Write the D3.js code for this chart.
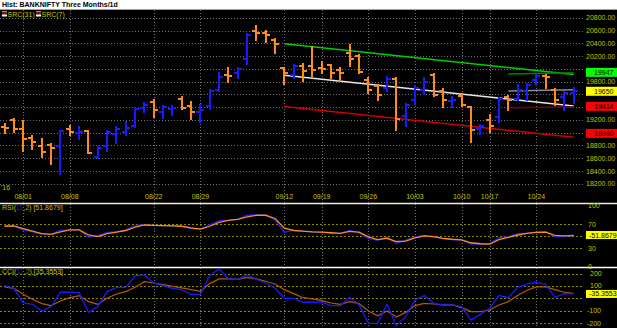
<!DOCTYPE html>
<meta charset="utf-8">
<script src="https://d3js.org/d3.v7.js"></script>
<style>
  body { margin: 0; background: #fff; }
  svg text { font-family: "Liberation Sans", Arial, sans-serif; font-size: 7px; }
</style>
<svg id="chart" width="617" height="328"></svg>
<script>

// trading days shown on the chart
const dates = ["07/28","07/29","08/01","08/02","08/03","08/04","08/05","08/08","08/09","08/10",
  "08/11","08/12","08/16","08/17","08/18","08/19","08/22","08/23","08/24","08/25",
  "08/26","08/29","08/30","08/31","09/01","09/02","09/06","09/07","09/08","09/09",
  "09/12","09/14","09/15","09/16","09/19","09/20","09/21","09/22","09/23","09/26",
  "09/27","09/28","09/29","09/30","10/03","10/04","10/05","10/06","10/07","10/10",
  "10/13","10/14","10/17","10/18","10/19","10/20","10/21","10/24","10/25","10/26",
  "10/27","10/28"];

const opens = [19090,19205,19055,18910,18795,18810,18785,19065,18995,19025,
  18615,18785,18985,19010,19100,19385,19475,19330,19370,19535,
  19425,19325,19415,19675,19905,19930,20160,20600,20560,20455,
  20010,19905,20045,20045,20015,20055,19990,20255,20210,19825,
  19740,19700,19835,19265,19520,19665,19905,19650,19495,19580,
  19400,19065,19205,19245,19560,19530,19650,19825,19885,19665,
  19560,19625];
const highs = [19140,19215,19190,18950,18900,18820,19035,19100,19085,19035,
  18775,19020,19090,19170,19385,19460,19510,19415,19425,19560,
  19475,19435,19665,19940,20010,20015,20545,20675,20600,20475,
  20015,20055,20085,20340,20105,20060,20015,20370,20215,19860,
  19750,19875,19855,19455,19730,19860,19915,19685,19560,19615,
  19405,19125,19280,19545,19580,19750,19770,19905,19910,19685,
  19635,19700];
const lows = [18995,19005,18715,18745,18625,18510,18355,18965,18900,18680,
  18600,18720,18835,18960,19090,19320,19240,19235,19280,19380,
  19220,19175,19370,19655,19790,19855,20085,20455,20430,20245,
  19760,19855,19815,19885,19930,19860,19815,20045,19930,19625,
  19510,19650,19040,19100,19455,19615,19580,19405,19405,19425,
  18860,18980,19005,19175,19350,19520,19510,19755,19705,19440,
  19360,19465];
const closes = [19075,19055,18900,18855,18705,18755,19020,19005,19010,18690,
  18760,19005,19065,19075,19370,19435,19350,19405,19385,19385,
  19320,19350,19655,19875,19885,20005,20535,20570,20535,20390,
  19940,20045,19965,19980,20005,19940,19940,20150,19950,19665,
  19595,19835,19220,19435,19700,19790,19595,19520,19515,19440,
  19045,19105,19110,19530,19510,19675,19755,19885,19875,19520,
  19625,19650];

// regression channels: [first bar, last bar] and [start value, end value]
const src31Bars = [30, 61];
const src31Upper = [20395, 19915];
const src31Mid = [19900, 19420];
const src31Lower = [19410, 18930];
const src7Bars = [54, 61];
const src7Upper = [19920, 19940];
const src7Mid = [19655, 19675];
const src7Lower = [19390, 19405];

// value flags on the price axis
const priceFlags = [19947, 19650, 19414, 18990];

const rsiFast = [66.3,66.3,60.4,57.2,53.5,52.9,59.3,60.4,60.4,48.1,
  50.8,56.1,57.2,60.4,67.9,68.4,67.3,67.3,66.8,66.3,
  62.0,61.5,68.9,75.3,76.4,78.0,84.4,84.9,84.4,76.9,
  56.1,59.9,57.7,57.2,56.7,55.1,54.5,59.3,55.1,46.5,
  43.3,48.7,38.0,43.3,48.7,51.3,48.7,45.5,44.4,43.3,
  36.9,36.9,36.9,47.6,48.7,54.0,55.1,56.7,57.2,48.7,
  49.7,51.8679];
const rsiSlow = [66.3,66.8,62.5,58.3,54.0,52.9,57.2,60.4,60.4,51.9,
  49.2,54.0,56.7,59.3,64.7,68.4,67.9,67.3,66.8,66.3,
  63.6,61.5,66.3,72.7,75.9,77.5,81.7,84.4,84.4,79.1,
  63.1,59.3,58.3,57.2,56.7,55.6,54.5,57.7,56.7,48.7,
  44.4,46.5,41.2,41.7,47.1,50.3,49.2,46.5,44.9,43.9,
  39.1,37.5,36.9,44.4,48.1,51.9,54.5,56.1,56.7,51.3,
  50.3,50.8];

const cciFast = [103,81,-35,-49,-103,-68,49,49,46,-114,
  -68,54,89,89,181,189,122,103,81,70,
  32,32,184,238,157,154,189,154,124,81,
  0,0,-32,-32,-32,-59,-59,8,-54,-203,
  -203,-49,-222,-149,-14,22,-41,-54,-54,-68,
  -176,-130,-81,22,5,89,114,130,114,8,
  38,35.3553];
const cciSlow = [92,81,32,-8,-43,-59,-22,5,22,-27,
  -49,0,35,54,89,135,124,111,97,84,
  70,57,119,157,157,154,170,157,138,116,
  70,38,5,-5,-19,-38,-49,-27,-43,-103,
  -141,-103,-151,-114,-59,-41,-46,-54,-54,-76,
  -108,-108,-95,-54,-27,22,65,92,92,70,
  49,41];

const dateTicks = ["08/01","08/08","08/22","08/29","09/12","09/19","09/26","10/03","10/10","10/17","10/24"];
const priceTicks = [18200,18400,18600,18800,19000,19200,19400,19600,19800,20000,20200,20400,20600,20800];
const rsiTicks = [100, 70, 30, 0];
const rsiGrid = [70, 50, 30];
const cciTicks = [200, 100, 0, -100, -200];

// colours
const olive = "#c4c400";
const upCol = "#1a1aff";
const downCol = "#ff8c1a";
const flagCols = ["#00ff00", "#ffff00", "#ff0000", "#ff0000"];

const svg = d3.select("#chart");
const W = 617, H = 328, plotRight = 584;

// background and title strip
svg.append("rect").attr("width", W).attr("height", H).attr("fill", "#000");
svg.append("rect").attr("width", W).attr("height", 9.5).attr("fill", "#fff");
svg.append("line").attr("x1", 0).attr("x2", W).attr("y1", 9.5).attr("y2", 9.5)
  .attr("stroke", "#a0a0a0").attr("stroke-width", 1);
svg.append("text").attr("x", 2).attr("y", 7).attr("font-weight", "bold").attr("fill", "#000")
  .text("Hist: BANKNIFTY Three Months/1d");

// scales
const x = d3.scalePoint().domain(dates).range([4.5, 573.6]);
const y = d3.scaleLinear().domain([18400, 20600]).range([171, 30.7]);
const yR = d3.scaleLinear().domain([0, 100]).range([266.5, 205.8]);
const yC = d3.scaleLinear().domain([-200, 200]).range([323, 273.6]);

const panels = [[10, 203], [204, 267], [268, 328]];

// vertical grid in every panel
panels.forEach(p => {
  svg.append("g").selectAll("line").data(dateTicks).join("line")
    .attr("x1", d => Math.round(x(d)) + 0.5).attr("x2", d => Math.round(x(d)) + 0.5)
    .attr("y1", p[0]).attr("y2", p[1])
    .attr("stroke", "#707070").attr("stroke-dasharray", "1,2");
});

// price grid + labels (labels under a value flag are hidden by it)
svg.append("g").selectAll("line").data(priceTicks).join("line")
  .attr("x1", 0).attr("x2", plotRight)
  .attr("y1", d => Math.round(y(d)) + 0.5).attr("y2", d => Math.round(y(d)) + 0.5)
  .attr("stroke", "#707070").attr("stroke-dasharray", "1,2");
const freeTicks = priceTicks.filter(t => priceFlags.every(f => Math.abs(y(t) - y(f)) > 7.5));
svg.append("g").selectAll("text").data(freeTicks).join("text")
  .attr("x", 586).attr("y", d => y(d) + 2.5).attr("fill", olive)
  .text(d => d.toFixed(2));

// date labels
svg.append("g").selectAll("text").data(dateTicks).join("text")
  .attr("x", d => x(d)).attr("y", 199).attr("text-anchor", "middle").attr("fill", olive)
  .text(d => d);
svg.append("text").attr("x", 1).attr("y", 190).attr("fill", olive).text("'16");

// regression channels
function channel(bars, vals, col, w) {
  svg.append("line")
    .attr("x1", x(dates[bars[0]])).attr("x2", x(dates[bars[1]]))
    .attr("y1", y(vals[0])).attr("y2", y(vals[1]))
    .attr("stroke", col).attr("stroke-width", w);
}
channel(src31Bars, src31Upper, "#00d000", 1.5);
channel(src31Bars, src31Mid, "#e8e8e8", 1.5);
channel(src31Bars, src31Lower, "#d00000", 1.5);
channel(src7Bars, src7Upper, "#008000", 1.5);
channel(src7Bars, src7Mid, "#8c8c8c", 1.5);
channel(src7Bars, src7Lower, "#800000", 1.5);

// OHLC bars
const bars = svg.append("g").attr("shape-rendering", "crispEdges").attr("stroke-width", 2)
  .selectAll("g").data(dates).join("g")
  .attr("stroke", (d, i) => closes[i] >= opens[i] ? upCol : downCol);
bars.append("line")
  .attr("x1", d => Math.round(x(d))).attr("x2", d => Math.round(x(d)))
  .attr("y1", (d, i) => y(highs[i]) - 1).attr("y2", (d, i) => y(lows[i]) + 1);
bars.append("line")
  .attr("x1", d => Math.round(x(d)) - 4).attr("x2", d => Math.round(x(d)))
  .attr("y1", (d, i) => Math.round(y(opens[i]))).attr("y2", (d, i) => Math.round(y(opens[i])));
bars.append("line")
  .attr("x1", d => Math.round(x(d))).attr("x2", d => Math.round(x(d)) + 4)
  .attr("y1", (d, i) => Math.round(y(closes[i]))).attr("y2", (d, i) => Math.round(y(closes[i])));

// price flags
const flags = svg.append("g").selectAll("g").data(priceFlags).join("g")
  .attr("transform", d => `translate(586,${y(d)})`);
flags.append("rect").attr("x", 0).attr("y", -4.5).attr("width", 31).attr("height", 9)
  .attr("fill", (d, i) => flagCols[i]);
flags.append("text").attr("x", 8).attr("y", 2.5).attr("fill", "#000").text(d => d);

// legend
function legendIcon(x0) {
  svg.append("rect").attr("x", x0).attr("y", 11).attr("width", 5).attr("height", 1.5).attr("fill", "#8c8c8c");
  svg.append("rect").attr("x", x0).attr("y", 12.5).attr("width", 5).attr("height", 2).attr("fill", "#a00000");
  svg.append("rect").attr("x", x0).attr("y", 14.5).attr("width", 5).attr("height", 2).attr("fill", "#ffffff");
}
legendIcon(2);
svg.append("text").attr("x", 7.5).attr("y", 16.5).attr("fill", olive).text("SRC(31)");
legendIcon(36);
svg.append("text").attr("x", 41.5).attr("y", 16.5).attr("fill", olive).text("SRC(7)");

// panel separators
svg.append("line").attr("x1", 0).attr("x2", W).attr("y1", 203.5).attr("y2", 203.5)
  .attr("stroke", "#f0f0c8").attr("stroke-width", 1.5);
svg.append("line").attr("x1", 0).attr("x2", W).attr("y1", 267.5).attr("y2", 267.5)
  .attr("stroke", "#ffffff").attr("stroke-width", 1.5);

// RSI panel
svg.append("g").selectAll("line").data(rsiGrid).join("line")
  .attr("x1", 0).attr("x2", plotRight)
  .attr("y1", d => Math.round(yR(d)) + 0.5).attr("y2", d => Math.round(yR(d)) + 0.5)
  .attr("stroke", "#8a8a00").attr("stroke-dasharray", "2,2");
svg.append("g").selectAll("text").data(rsiTicks).join("text")
  .attr("x", 588).attr("y", d => yR(d) + 2.5).attr("fill", olive).text(d => d);

const lineR = d3.line().x((d, i) => x(dates[i])).y(d => yR(d));
svg.append("path").datum(rsiFast).attr("d", lineR).attr("fill", "none")
  .attr("stroke", upCol).attr("stroke-width", 1.3);
svg.append("path").datum(rsiSlow).attr("d", lineR).attr("fill", "none")
  .attr("stroke", "#ff8c1a").attr("stroke-width", 1.3);

const rsiLast = rsiFast[rsiFast.length - 1];
svg.append("rect").attr("x", 586).attr("y", yR(rsiLast) - 4).attr("width", 31).attr("height", 8)
  .attr("fill", "#ffff00");
svg.append("text").attr("x", 589).attr("y", yR(rsiLast) + 2.5).attr("fill", "#000")
  .text("-" + rsiLast.toFixed(4));

const rsiTitle = svg.append("text").attr("x", 2).attr("y", 210).attr("fill", olive);
rsiTitle.append("tspan").text("RSI(");
rsiTitle.append("tspan").attr("fill", upCol).text("11");
rsiTitle.append("tspan").text(",");
rsiTitle.append("tspan").attr("fill", "#ff8c1a").text("2");
rsiTitle.append("tspan").text(") [" + rsiLast.toFixed(4) + "]");

// CCI panel
const cciLast = cciFast[cciFast.length - 1];
svg.append("g").selectAll("line").data(cciTicks).join("line")
  .attr("x1", 0).attr("x2", plotRight)
  .attr("y1", d => Math.round(yC(d)) + 0.5).attr("y2", d => Math.round(yC(d)) + 0.5)
  .attr("stroke", "#8a8a00").attr("stroke-dasharray", "2,2");
svg.append("g").selectAll("text")
  .data(cciTicks.filter(t => Math.abs(yC(t) - yC(cciLast)) > 7))
  .join("text")
  .attr("x", d => d < 0 ? 587 : 590).attr("y", d => yC(d) + 2.5).attr("fill", olive).text(d => d);

const lineC = d3.line().x((d, i) => x(dates[i])).y(d => yC(d));
svg.append("path").datum(cciSlow).attr("d", lineC).attr("fill", "none")
  .attr("stroke", "#b05a10").attr("stroke-width", 1.2);
svg.append("path").datum(cciFast).attr("d", lineC).attr("fill", "none")
  .attr("stroke", upCol).attr("stroke-width", 1.3);

svg.append("rect").attr("x", 586).attr("y", yC(cciLast) - 4).attr("width", 31).attr("height", 8)
  .attr("fill", "#ffff00");
svg.append("text").attr("x", 589).attr("y", yC(cciLast) + 2.5).attr("fill", "#000")
  .text("-" + cciLast.toFixed(4));

const cciTitle = svg.append("text").attr("x", 2).attr("y", 273.5).attr("fill", olive);
cciTitle.append("tspan").text("CCI(");
cciTitle.append("tspan").attr("fill", upCol).text("11");
cciTitle.append("tspan").text(",");
cciTitle.append("tspan").attr("fill", "#b05a10").text("2");
cciTitle.append("tspan").text(") [" + cciLast.toFixed(4) + "]");

</script>
